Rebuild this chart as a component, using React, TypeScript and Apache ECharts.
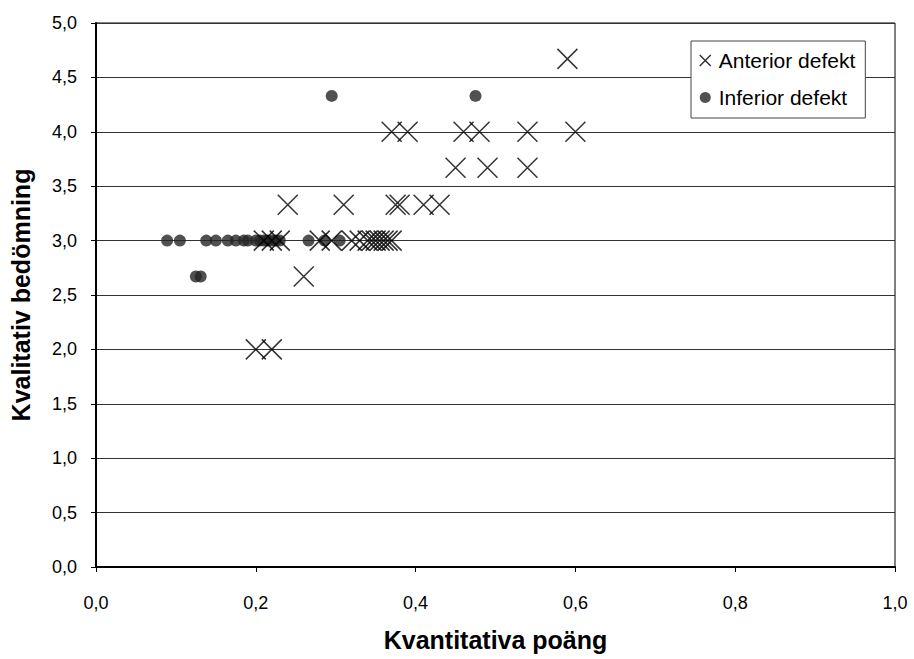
import React, { useEffect, useRef } from "react";
import * as echarts from "echarts";

const anteriorX = [0.59, 0.37, 0.39, 0.46, 0.48, 0.54, 0.60, 0.45, 0.49, 0.54, 0.24, 0.31, 0.375, 0.38, 0.41, 0.43, 0.21, 0.22, 0.23, 0.28, 0.295, 0.32, 0.33, 0.34, 0.345, 0.35, 0.355, 0.36, 0.365, 0.37, 0.26, 0.20, 0.22];
const anteriorY = [4.67, 4.0, 4.0, 4.0, 4.0, 4.0, 4.0, 3.67, 3.67, 3.67, 3.33, 3.33, 3.33, 3.33, 3.33, 3.33, 3.0, 3.0, 3.0, 3.0, 3.0, 3.0, 3.0, 3.0, 3.0, 3.0, 3.0, 3.0, 3.0, 3.0, 2.67, 2.0, 2.0];

const inferiorX = [0.295, 0.475, 0.125, 0.131, 0.089, 0.105, 0.138, 0.15, 0.165, 0.175, 0.185, 0.19, 0.2, 0.205, 0.21, 0.215, 0.22, 0.225, 0.23, 0.266, 0.286, 0.305];
const inferiorY = [4.33, 4.33, 2.67, 2.67, 3.0, 3.0, 3.0, 3.0, 3.0, 3.0, 3.0, 3.0, 3.0, 3.0, 3.0, 3.0, 3.0, 3.0, 3.0, 3.0, 3.0, 3.0];

const seriesNames = ["Anterior defekt", "Inferior defekt"];
const xTitle = "Kvantitativa poäng";
const yTitle = "Kvalitativ bedömning";

const FONT = "Liberation Sans, Arial, sans-serif";
const CROSS = "path://M0,0L10,10M10,0L0,10";

export default function App() {
  const ref = useRef<HTMLDivElement>(null);
  useEffect(() => {
    if (!ref.current) return;
    const chart = echarts.init(ref.current, undefined, { renderer: "svg" });
    const fmt = (v: number) => v.toFixed(1).replace(".", ",");
    chart.setOption({
      animation: false,
      backgroundColor: "#fff",
      textStyle: { fontFamily: FONT },
      grid: {
        left: 95,
        right: 19,
        top: 23,
        bottom: 92,
        show: true,
        borderColor: "#000",
        borderWidth: 1,
      },
      legend: {
        orient: "vertical",
        left: 691,
        top: 41,
        padding: [9, 10, 10, 8],
        itemGap: 16,
        itemWidth: 11,
        itemHeight: 11,
        borderColor: "#444",
        borderWidth: 1,
        backgroundColor: "#fff",
        textStyle: { fontSize: 21, color: "#000", fontFamily: FONT, padding: [0, 0, 0, 3] },
        data: [
          { name: seriesNames[0], icon: CROSS, itemStyle: { color: "transparent", borderColor: "#000", borderWidth: 1.5 } },
          { name: seriesNames[1], icon: "circle", itemStyle: { color: "#262626" } },
        ],
      },
      xAxis: {
        type: "value",
        min: 0,
        max: 1,
        interval: 0.2,
        name: xTitle,
        nameLocation: "middle",
        nameGap: 60,
        nameTextStyle: { fontSize: 25, fontWeight: "bold", color: "#000", fontFamily: FONT },
        axisLine: { show: true, lineStyle: { color: "#000", width: 2 } },
        axisTick: { show: true, length: 5, lineStyle: { color: "#000" } },
        axisLabel: { formatter: fmt, fontSize: 18, color: "#000", margin: 27, fontFamily: FONT },
        splitLine: { show: false },
      },
      yAxis: {
        type: "value",
        min: 0,
        max: 5,
        interval: 0.5,
        name: yTitle,
        nameLocation: "middle",
        nameGap: 63,
        nameTextStyle: { fontSize: 25, fontWeight: "bold", color: "#000", fontFamily: FONT },
        axisLine: { show: true, lineStyle: { color: "#000", width: 2 } },
        axisTick: { show: true, length: 5, lineStyle: { color: "#000" } },
        axisLabel: { formatter: fmt, fontSize: 18, color: "#000", margin: 19, fontFamily: FONT },
        splitLine: { show: true, lineStyle: { color: "#333", width: 1 } },
      },
      series: [
        {
          name: seriesNames[0],
          type: "scatter",
          symbol: CROSS,
          symbolSize: 20,
          itemStyle: { color: "transparent", borderColor: "#000", borderWidth: 1.5 },
          data: anteriorX.map((x, i) => [x, anteriorY[i]]),
          z: 3,
        },
        {
          name: seriesNames[1],
          type: "scatter",
          symbol: "circle",
          symbolSize: 12,
          itemStyle: { color: "#262626" },
          data: inferiorX.map((x, i) => [x, inferiorY[i]]),
          z: 2,
        },
      ],
    });
    return () => chart.dispose();
  }, []);
  return <div ref={ref} style={{ width: 914, height: 659, position: "absolute", left: 0, top: 0 }} />;
}
